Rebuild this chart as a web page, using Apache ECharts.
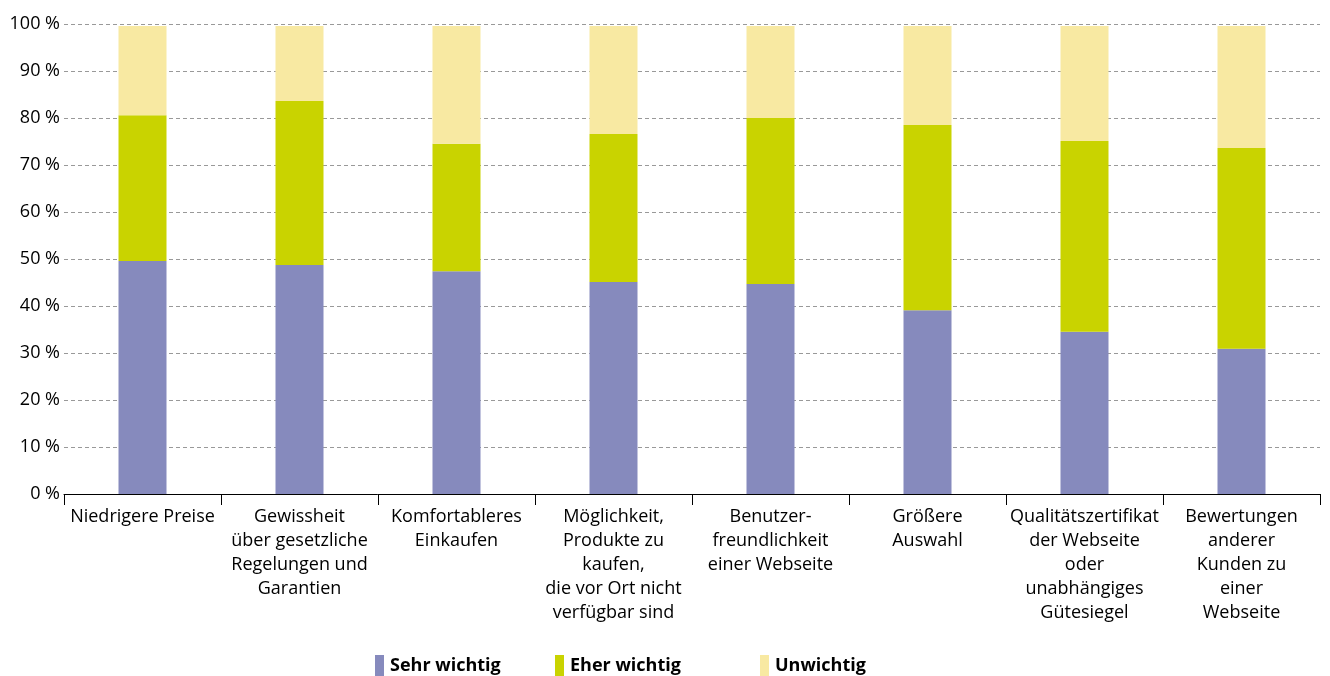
<!DOCTYPE html>
<html>
<head>
<meta charset="utf-8">
<script src="https://cdn.jsdelivr.net/npm/echarts@6/dist/echarts.min.js"></script>
<style>
    html, body {margin: 0; padding: 0; background: #fff;}
    #chart {width: 1330px; height: 676px;}
</style>
</head>
<body>
<div id="chart"></div>
<script>
// Kategorien (Beschriftungen mit Zeilenumbrüchen wie im Original)
const categories = [
    'Niedrigere Preise',
    'Gewissheit\nüber gesetzliche\nRegelungen und\nGarantien',
    'Komfortableres\nEinkaufen',
    'Möglichkeit,\nProdukte zu\nkaufen,\ndie vor Ort nicht\nverfügbar sind',
    'Benutzer-\nfreundlichkeit\neiner Webseite',
    'Größere\nAuswahl',
    'Qualitätszertifikat\nder Webseite\noder\nunabhängiges\nGütesiegel',
    'Bewertungen\nanderer\nKunden zu\neiner\nWebseite',
]

const sehrWichtig = [49.6, 48.7, 47.4, 45.1, 44.7, 39.1, 34.5, 30.9]
const eherWichtig = [31.0, 34.9, 27.1, 31.5, 35.3, 39.4, 40.6, 42.7]
const unwichtig = [19.0, 16.0, 25.1, 23.0, 19.6, 21.1, 24.5, 26.0]

const colors = {
    sehr: '#868abd',
    eher: '#c9d300',
    un: '#f8e9a2',
}

const font = '"Open Sans", "Noto Sans", sans-serif'

const chart = echarts.init(document.getElementById('chart'))

const legendBase = {
    top: 650,
    itemWidth: 9,
    itemHeight: 22,
    itemGap: 0,
    icon: 'rect',
    selectedMode: false,
    textStyle: {
        fontFamily: font,
        fontSize: 18,
        fontWeight: 'bold',
        color: '#000',
        padding: [0, 0, 0, 1],
    },
}

const series = [
    {name: 'Sehr wichtig', data: sehrWichtig, color: colors.sehr},
    {name: 'Eher wichtig', data: eherWichtig, color: colors.eher},
    {name: 'Unwichtig', data: unwichtig, color: colors.un},
].map((s) => ({
    name: s.name,
    type: 'bar',
    stack: 'total',
    barWidth: 48,
    data: s.data,
    itemStyle: {color: s.color},
    emphasis: {disabled: true},
}))

chart.setOption({
    animation: false,
    grid: {left: 64, right: 10, top: 24, bottom: 182},
    legend: [
        {...legendBase, left: 370, data: ['Sehr wichtig']},
        {...legendBase, left: 550, data: ['Eher wichtig']},
        {...legendBase, left: 755, data: ['Unwichtig']},
    ],
    xAxis: {
        type: 'category',
        data: categories,
        axisLine: {lineStyle: {color: '#000', width: 1}},
        axisTick: {show: true, length: 11, lineStyle: {color: '#000'}},
        axisLabel: {
            interval: 0,
            margin: 11,
            fontFamily: font,
            fontSize: 18,
            lineHeight: 24,
            color: '#000',
            align: 'center',
        },
    },
    yAxis: {
        type: 'value',
        min: 0,
        max: 100,
        interval: 10,
        axisLine: {show: false},
        axisTick: {show: false},
        splitLine: {lineStyle: {color: '#999', type: [4, 3], width: 1}},
        axisLabel: {
            formatter: '{value} %',
            margin: 4,
            fontFamily: font,
            fontSize: 18,
            color: '#000',
        },
    },
    series,
})
</script>
</body>
</html>
